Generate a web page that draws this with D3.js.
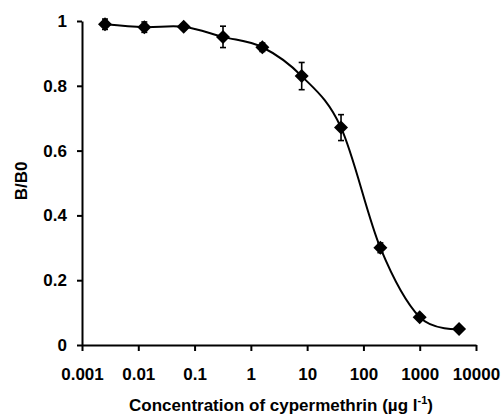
<!DOCTYPE html>
<html>
<head>
<meta charset="utf-8">
<script src="https://cdn.jsdelivr.net/npm/d3@7"></script>
<style>
  body { margin: 0; background: #fff; }
  text { font-family: "Liberation Sans", Arial, sans-serif; font-weight: bold; fill: #000; }
</style>
</head>
<body>
<svg id="chart" width="502" height="417"></svg>
<script>
const concentrations = [0.00256, 0.0128, 0.064, 0.32, 1.6, 8, 40, 200, 1000, 5000];
const ratios = [0.99, 0.981, 0.982, 0.951, 0.919, 0.83, 0.671, 0.30, 0.086, 0.049];
const errors = [0.016, 0.016, 0.008, 0.033, 0.013, 0.042, 0.04, 0.015, 0.008, 0.008];
const xTicks = [0.001, 0.01, 0.1, 1, 10, 100, 1000, 10000];
const yTicks = [0, 0.2, 0.4, 0.6, 0.8, 1];

const svg = d3.select("#chart");
const margin = { left: 82, right: 26, top: 21, bottom: 72 };
const width = 502, height = 417;

const x = d3.scaleLog()
  .domain([0.001, 10000])
  .range([margin.left, width - margin.right]);

const y = d3.scaleLinear()
  .domain([0, 1])
  .range([height - margin.bottom, margin.top]);

const data = concentrations.map((c, i) => ({ c, r: ratios[i], e: errors[i] }));

// axes
const xAxis = svg.append("g")
  .attr("transform", `translate(0,${y(0)})`)
  .call(d3.axisBottom(x).tickValues(xTicks).tickFormat(d => String(d)).tickSize(6).tickSizeOuter(0).tickPadding(17));

const yAxis = svg.append("g")
  .attr("transform", `translate(${x(0.001)},0)`)
  .call(d3.axisLeft(y).tickValues(yTicks).tickFormat(d => String(d)).tickSize(5).tickSizeOuter(0).tickPadding(10));

[xAxis, yAxis].forEach(a => {
  a.select(".domain").attr("stroke", "#000").attr("stroke-width", 2);
  a.selectAll(".tick line").attr("stroke", "#000").attr("stroke-width", 2);
  a.selectAll("text").style("font-size", "17px").style("font-family", "'Liberation Sans', Arial, sans-serif").style("font-weight", "bold");
});

// smoothed line
const line = d3.line()
  .x(d => x(d.c))
  .y(d => y(d.r))
  .curve(d3.curveCardinal.tension(0));

svg.append("path")
  .datum(data)
  .attr("fill", "none")
  .attr("stroke", "#000")
  .attr("stroke-width", 2)
  .attr("d", line);

// error bars
const eb = svg.append("g").attr("stroke", "#000").attr("stroke-width", 1.6);
data.forEach(d => {
  const cx = x(d.c);
  eb.append("line").attr("x1", cx).attr("x2", cx).attr("y1", y(d.r + d.e)).attr("y2", y(d.r - d.e));
  eb.append("line").attr("x1", cx - 3).attr("x2", cx + 3).attr("y1", y(d.r + d.e)).attr("y2", y(d.r + d.e));
  eb.append("line").attr("x1", cx - 3).attr("x2", cx + 3).attr("y1", y(d.r - d.e)).attr("y2", y(d.r - d.e));
});

// diamond markers
svg.append("g").selectAll("path")
  .data(data)
  .join("path")
  .attr("transform", d => `translate(${x(d.c)},${y(d.r)})`)
  .attr("d", "M0,-7L7,0L0,7L-7,0Z")
  .attr("fill", "#000");

// axis titles
const xTitle = svg.append("text")
  .attr("x", 281)
  .attr("y", 411)
  .attr("text-anchor", "middle")
  .style("font-size", "17px");
xTitle.append("tspan").text("Concentration of cypermethrin (\u00b5g l");
xTitle.append("tspan").attr("dy", -7).style("font-size", "11px").text("-1");
xTitle.append("tspan").attr("dy", 7).text(")");

svg.append("text")
  .attr("transform", "translate(27,181) rotate(-90)")
  .attr("text-anchor", "middle")
  .style("font-size", "17px")
  .text("B/B0");
</script>
</body>
</html>
